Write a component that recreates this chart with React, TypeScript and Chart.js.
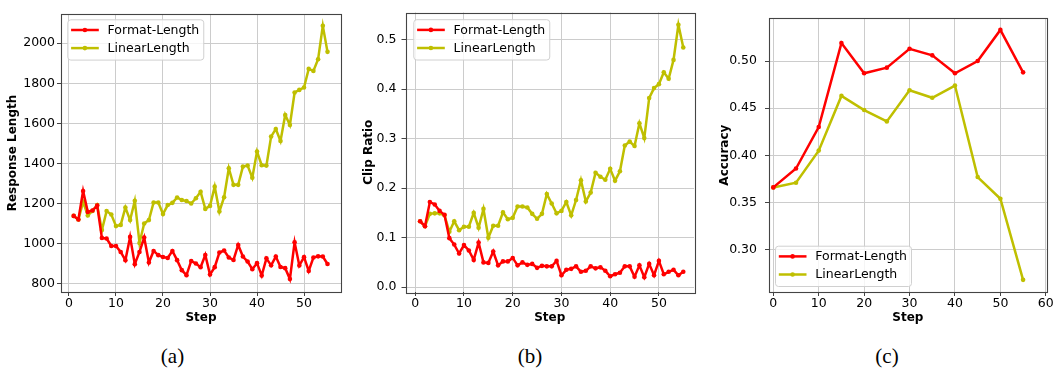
import { useEffect, useRef } from 'react';
import { Chart, registerables } from 'chart.js';

Chart.register(...registerables);

const FONT = '"DejaVu Sans", "Noto Sans", sans-serif';
const RED = '#ff0000';
const OLIVE = '#bfbf00';

const SERIES_NAMES = ['Format-Length', 'LinearLength'];

const STEPS = [
  1, 2, 3, 4, 5, 6, 7, 8, 9, 10, 11, 12, 13, 14, 15, 16, 17, 18, 19, 20,
  21, 22, 23, 24, 25, 26, 27, 28, 29, 30, 31, 32, 33, 34, 35, 36, 37, 38, 39, 40,
  41, 42, 43, 44, 45, 46, 47, 48, 49, 50, 51, 52, 53, 54, 55,
];

const LEN_FORMAT = [
  1138, 1120, 1262, 1158, 1165, 1190, 1028, 1025, 988, 988,
  958, 917, 1033, 897, 958, 1030, 905, 963, 942, 933,
  928, 963, 917, 867, 842, 913, 900, 882, 943, 845,
  882, 955, 965, 930, 918, 993, 935, 910, 872, 902,
  840, 926, 891, 935, 883, 877, 823, 1006, 890, 932,
  863, 930, 936, 935, 898,
];
const LEN_LINEAR = [
  1138, 1120, 1208, 1140, 1163, 1192, 1067, 1162, 1145, 1087,
  1093, 1180, 1117, 1213, 1003, 1100, 1117, 1205, 1205, 1147,
  1192, 1203, 1230, 1217, 1212, 1200, 1226, 1258, 1173, 1188,
  1284, 1160, 1231, 1376, 1293, 1293, 1384, 1389, 1329, 1459,
  1391, 1389, 1534, 1572, 1512, 1642, 1592, 1754, 1767, 1779,
  1872, 1862, 1920, 2087, 1957,
];

const CLIP_FORMAT = [
  0.133, 0.123, 0.172, 0.167, 0.154, 0.146, 0.099, 0.086, 0.068, 0.085,
  0.074, 0.055, 0.09, 0.05, 0.049, 0.072, 0.044, 0.052, 0.052, 0.059,
  0.044, 0.05, 0.045, 0.047, 0.039, 0.043, 0.042, 0.042, 0.053, 0.024,
  0.035, 0.037, 0.042, 0.031, 0.033, 0.042, 0.038, 0.04, 0.033, 0.022,
  0.026, 0.029, 0.042, 0.042, 0.021, 0.044, 0.02, 0.047, 0.024, 0.053,
  0.026, 0.031, 0.035, 0.024, 0.031,
];
const CLIP_LINEAR = [
  0.133, 0.123, 0.148, 0.149, 0.149, 0.145, 0.112, 0.133, 0.115, 0.122,
  0.122, 0.15, 0.12, 0.158, 0.1, 0.124, 0.124, 0.151, 0.137, 0.14,
  0.163, 0.163, 0.161, 0.148, 0.138, 0.148, 0.188, 0.169, 0.149, 0.154,
  0.172, 0.145, 0.176, 0.216, 0.173, 0.191, 0.231, 0.223, 0.217, 0.239,
  0.215, 0.234, 0.286, 0.294, 0.285, 0.331, 0.301, 0.382, 0.402, 0.41,
  0.434, 0.421, 0.459, 0.53, 0.484,
];

const ACC_STEPS = [0, 5, 10, 15, 20, 25, 30, 35, 40, 45, 50, 55];
const ACC_FORMAT = [0.366, 0.386, 0.43, 0.519, 0.487, 0.493, 0.513, 0.506, 0.487, 0.5, 0.533, 0.488];
const ACC_LINEAR = [0.366, 0.371, 0.405, 0.463, 0.448, 0.436, 0.469, 0.461, 0.474, 0.377, 0.354, 0.268];

const X_TICKS_AB = [0, 10, 20, 30, 40, 50];
const X_LABELS_AB = ['0', '10', '20', '30', '40', '50'];
const X_TICKS_C = [0, 10, 20, 30, 40, 50, 60];
const X_LABELS_C = ['0', '10', '20', '30', '40', '50', '60'];

const Y_TICKS_A = [800, 1000, 1200, 1400, 1600, 1800, 2000];
const Y_LABELS_A = ['800', '1000', '1200', '1400', '1600', '1800', '2000'];
const Y_TICKS_B = [0, 0.1, 0.2, 0.3, 0.4, 0.5];
const Y_LABELS_B = ['0.0', '0.1', '0.2', '0.3', '0.4', '0.5'];
const Y_TICKS_C = [0.3, 0.35, 0.4, 0.45, 0.5];
const Y_LABELS_C = ['0.30', '0.35', '0.40', '0.45', '0.50'];

type Panel = {
  left: number;
  width: number;
  height: number;
  padding: { left: number; top: number; right: number; bottom: number };
  yAxisWidth: number;
  xAxisHeight: number;
  xMin: number;
  xMax: number;
  yMin: number;
  yMax: number;
  xTicks: number[];
  xLabels: string[];
  yTicks: number[];
  yLabels: string[];
  yTitle: string;
  yTitlePad: number;
  yTickPad: number;
  steps: number[];
  values: number[][];
  legend: { dx: number; dy: number; bottom: boolean };
};

const PANELS: Panel[] = [
  {
    left: 0, width: 350, height: 330,
    padding: { left: 0, top: 14, right: 9, bottom: 0 },
    yAxisWidth: 61, xAxisHeight: 38,
    xMin: -1.7, xMax: 57.87, yMin: 758, yMax: 2146,
    xTicks: X_TICKS_AB, xLabels: X_LABELS_AB,
    yTicks: Y_TICKS_A, yLabels: Y_LABELS_A,
    yTitle: 'Response Length', yTitlePad: 5.8, yTickPad: 2,
    steps: STEPS, values: [LEN_FORMAT, LEN_LINEAR],
    legend: { dx: 6.3, dy: 5.3, bottom: false },
  },
  {
    left: 350, width: 350, height: 330,
    padding: { left: 0, top: 3.3, right: 6, bottom: 0 },
    yAxisWidth: 55.5, xAxisHeight: 38,
    xMin: -2.0, xMax: 57.2, yMin: -0.0098, yMax: 0.5547,
    xTicks: X_TICKS_AB, xLabels: X_LABELS_AB,
    yTicks: Y_TICKS_B, yLabels: Y_LABELS_B,
    yTitle: 'Clip Ratio', yTitlePad: 11.8, yTickPad: 5,
    steps: STEPS, values: [CLIP_FORMAT, CLIP_LINEAR],
    legend: { dx: 7.8, dy: 6.7, bottom: false },
  },
  {
    left: 700, width: 355, height: 330,
    padding: { left: 0, top: 18.3, right: 8.3, bottom: 0 },
    yAxisWidth: 69, xAxisHeight: 38,
    xMin: -0.95, xMax: 60.2, yMin: 0.2551, yMax: 0.5453,
    xTicks: X_TICKS_C, xLabels: X_LABELS_C,
    yTicks: Y_TICKS_C, yLabels: Y_LABELS_C,
    yTitle: 'Accuracy', yTitlePad: 17.8, yTickPad: 8,
    steps: ACC_STEPS, values: [ACC_FORMAT, ACC_LINEAR],
    legend: { dx: 6, dy: 6, bottom: true },
  },
];

const COLORS = [RED, OLIVE];

function framePlugin(panel: Panel) {
  return {
    id: 'frameAndLegend',
    afterDatasetsDraw(chart: any) {
      const { ctx, chartArea } = chart;
      const { left, top, right, bottom } = chartArea;
      ctx.save();
      ctx.strokeStyle = '#444444';
      ctx.lineWidth = 1.1;
      ctx.strokeRect(Math.round(left) + 0.5, Math.round(top) + 0.5, Math.round(right - left), Math.round(bottom - top));

      // legend
      ctx.font = `12.5px ${FONT}`;
      const datasets = chart.data.datasets;
      const textW = Math.max(...datasets.map((d: any) => ctx.measureText(d.label).width));
      const w = 40.3 + textW + 4;
      const h = 40.3;
      const x0 = left + panel.legend.dx;
      const y0 = panel.legend.bottom ? bottom - panel.legend.dy - h : top + panel.legend.dy;
      ctx.beginPath();
      if ((ctx as any).roundRect) {
        (ctx as any).roundRect(x0 + 0.5, y0 + 0.5, w, h, 3);
      } else {
        ctx.rect(x0 + 0.5, y0 + 0.5, w, h);
      }
      ctx.fillStyle = 'rgba(255,255,255,0.8)';
      ctx.fill();
      ctx.strokeStyle = '#d0d0d0';
      ctx.lineWidth = 1;
      ctx.stroke();
      datasets.forEach((d: any, i: number) => {
        const y = y0 + 10.7 + i * 18.1;
        ctx.strokeStyle = d.borderColor;
        ctx.lineWidth = 2.5;
        ctx.beginPath();
        ctx.moveTo(x0 + 3.8, y);
        ctx.lineTo(x0 + 31.5, y);
        ctx.stroke();
        ctx.fillStyle = d.borderColor;
        ctx.beginPath();
        ctx.arc(x0 + 17.6, y, 2.3, 0, Math.PI * 2);
        ctx.fill();
        ctx.fillStyle = '#000000';
        ctx.textBaseline = 'middle';
        ctx.textAlign = 'left';
        ctx.fillText(d.label, x0 + 40.3, y + 0.5);
      });
      ctx.restore();
    },
  };
}

function makeChart(canvas: HTMLCanvasElement, p: Panel) {
  const tickFont = { family: FONT, size: 12.5 };
  const titleFont = { family: FONT, size: 12, weight: 'bold' as const };
  return new Chart(canvas, {
    type: 'line',
    data: {
      datasets: p.values.map((vals, si) => ({
        label: SERIES_NAMES[si],
        data: p.steps.map((x, i) => ({ x, y: vals[i] })),
        borderColor: COLORS[si],
        backgroundColor: COLORS[si],
        pointBackgroundColor: COLORS[si],
        pointBorderWidth: 0,
        pointRadius: 2.3,
        borderWidth: 2.5,
        tension: 0,
        fill: false,
      })),
    },
    options: {
      responsive: false,
      animation: false,
      events: [],
      layout: { padding: p.padding },
      plugins: { legend: { display: false }, tooltip: { enabled: false } },
      scales: {
        x: {
          type: 'linear',
          min: p.xMin,
          max: p.xMax,
          afterBuildTicks: (s: any) => {
            s.ticks = p.xTicks.map((v) => ({ value: v }));
          },
          afterFit: (s: any) => {
            s.height = p.xAxisHeight;
          },
          ticks: {
            callback: (_v: any, i: number) => p.xLabels[i],
            font: tickFont,
            color: '#000000',
            padding: 0,
            maxRotation: 0,
            autoSkip: false,
          },
          grid: { color: '#cccccc', lineWidth: 1, tickColor: '#444444', tickLength: 4 },
          border: { display: false },
          title: {
            display: true,
            text: 'Step',
            font: titleFont,
            color: '#000000',
            padding: { top: 0, bottom: 4.5 },
          },
        },
        y: {
          type: 'linear',
          min: p.yMin,
          max: p.yMax,
          afterBuildTicks: (s: any) => {
            s.ticks = p.yTicks.map((v) => ({ value: v }));
          },
          afterFit: (s: any) => {
            s.width = p.yAxisWidth;
          },
          ticks: {
            callback: (_v: any, i: number) => p.yLabels[i],
            font: tickFont,
            color: '#000000',
            padding: p.yTickPad,
            autoSkip: false,
          },
          grid: { color: '#cccccc', lineWidth: 1, tickColor: '#444444', tickLength: 4 },
          border: { display: false },
          title: {
            display: true,
            text: p.yTitle,
            font: titleFont,
            color: '#000000',
            padding: { top: p.yTitlePad, bottom: 0 },
          },
        },
      },
    },
    plugins: [framePlugin(p)],
  } as any);
}

function PanelChart({ panel }: { panel: Panel }) {
  const ref = useRef<HTMLCanvasElement | null>(null);
  useEffect(() => {
    if (!ref.current) return;
    const chart = makeChart(ref.current, panel);
    return () => chart.destroy();
  }, [panel]);
  return (
    <canvas
      ref={ref}
      width={panel.width}
      height={panel.height}
      style={{ position: 'absolute', left: panel.left, top: 0, width: panel.width, height: panel.height }}
    />
  );
}

const CAPTIONS = ['(a)', '(b)', '(c)'];
const CAPTION_CENTERS = [172.5, 530, 887];

export default function App() {
  return (
    <div style={{ position: 'absolute', left: 0, top: 0, width: 1055, height: 379, background: '#ffffff', overflow: 'hidden' }}>
      {PANELS.map((p, i) => (
        <PanelChart key={i} panel={p} />
      ))}
      {CAPTIONS.map((c, i) => (
        <div
          key={c}
          style={{
            position: 'absolute',
            left: CAPTION_CENTERS[i] - 50,
            width: 100,
            top: 343,
            lineHeight: '26px',
            fontSize: 21,
            textAlign: 'center',
            fontFamily: '"Liberation Serif", "Times New Roman", serif',
            color: '#000',
          }}
        >
          {c}
        </div>
      ))}
    </div>
  );
}
